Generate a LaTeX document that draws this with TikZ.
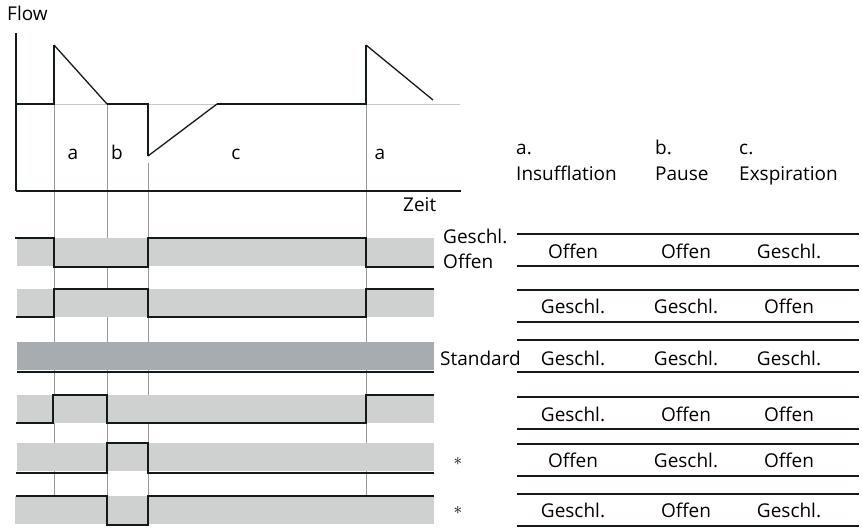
\documentclass[tikz,border=0pt]{standalone}
\usepackage{fontspec}
\setmainfont{Open Sans}
\definecolor{bandgray}{HTML}{CFD1D0}
\definecolor{stdgray}{HTML}{A6ACAF}
\definecolor{inkdark}{HTML}{121A1A}
\tikzset{
  signal/.style={inkdark, line width=2.6pt},
  flowline/.style={inkdark, line width=2pt},
  flowslope/.style={inkdark, line width=1.3pt},
  marker/.style={gray!80, line width=0.9pt},
  tablerule/.style={inkdark, line width=2pt},
  txt/.style={inner sep=0pt, anchor=base},
  txtl/.style={inner sep=0pt, anchor=base west}
}

\begin{document}
\begin{tikzpicture}[x=1pt,y=-1pt,font={\fontsize{19}{22}\selectfont}]
\useasboundingbox (0,0) rectangle (862,528);
% phase markers
\draw[marker] (54,104) -- (54,496);
\draw[marker] (107,104) -- (107,525);
\draw[marker] (148,163) -- (148,525);
\draw[marker] (366,104) -- (366,496);
\draw[gray!45, line width=0.8pt] (16,104) -- (460,104);
% axes
\draw[inkdark, line width=1.3pt] (16,33) -- (16,191);
\draw[inkdark, line width=2.6pt] (16,191) -- (461,191);
\node[txtl] (flow) at (7,20.7) {Flow};
\node[txtl] (zeit) at (403,211.7) {Zeit};
% flow curve
\draw[flowline] (16,104) -- (54,104) -- (54,45);
\draw[flowslope] (54,45) -- (107,104);
\draw[flowline] (107,104) -- (148,104) -- (148,156);
\draw[flowslope] (148,156) -- (217,104);
\draw[flowline] (217,104) -- (366,104) -- (366,45);
\draw[flowslope] (366,45) -- (433,100);
\node[txt] (pa1) at (73,159.3) {a};
\node[txt] (pb) at (117,159.3) {b};
\node[txt] (pc) at (236,159.3) {c};
\node[txt] (pa2) at (380,159.3) {a};
% valve bands
\fill[bandgray] (17,238) rectangle (434,266);
\fill[bandgray] (17,289) rectangle (434,317);
\fill[stdgray] (17,342) rectangle (434,370);
\fill[bandgray] (17,395) rectangle (434,423);
\fill[bandgray] (17,443) rectangle (434,471);
\fill[bandgray] (15,496) rectangle (434,524);
% valve signals
\draw[signal] (15,238) -- (54,238) -- (54,267) -- (148,267) -- (148,238) -- (366,238) -- (366,267) -- (434,267);
\draw[signal] (16,317) -- (54,317) -- (54,289) -- (148,289) -- (148,317) -- (366,317) -- (366,289) -- (434,289);
\draw[signal] (17,372) -- (434,372);
\draw[signal] (16,423) -- (53,423) -- (53,395) -- (107,395) -- (107,423) -- (366,423) -- (366,395) -- (434,395);
\draw[signal] (16,473) -- (107,473) -- (107,443) -- (148,443) -- (148,473) -- (434,473);
\draw[signal] (16,496) -- (107,496) -- (107,525) -- (148,525) -- (148,496) -- (434,496);
% left labels
\node[txtl] (geschl) at (443,243.3) {Geschl.};
\node[txtl] (offen) at (443,268.3) {Offen};
\node[txtl] (standard) at (440,365) {Standard};
\node[inner sep=0pt] (stara) at (458,461.7) {$\ast$};
\node[inner sep=0pt] (starb) at (458,510) {$\ast$};
% table
\node[txtl] (ha) at (516,154) {a.};
\node[txtl] (hia) at (516,180.7) {Insufflation};
\node[txtl] (hb) at (655,154) {b.};
\node[txtl] (hib) at (655,180.7) {Pause};
\node[txtl] (hc) at (739,154) {c.};
\node[txtl] (hic) at (739,180.7) {Exspiration};
\foreach \y in {234,265.7,290,321.7,340,371.7,396.7,429,444,475.7,494,525.7}
  \draw[tablerule] (517,\y) -- (859,\y);
\node[txt] (r1a) at (573,258.3) {Offen};
\node[txt] (r1b) at (686,258.3) {Offen};
\node[txt] (r1c) at (789,258.3) {Geschl.};
\node[txt] (r2a) at (573,313.3) {Geschl.};
\node[txt] (r2b) at (686,313.3) {Geschl.};
\node[txt] (r2c) at (789,313.3) {Offen};
\node[txt] (r3a) at (573,365) {Geschl.};
\node[txt] (r3b) at (686,365) {Geschl.};
\node[txt] (r3c) at (789,365) {Geschl.};
\node[txt] (r4a) at (573,421) {Geschl.};
\node[txt] (r4b) at (686,421) {Offen};
\node[txt] (r4c) at (789,421) {Offen};
\node[txt] (r5a) at (573,467.5) {Offen};
\node[txt] (r5b) at (686,467.5) {Geschl.};
\node[txt] (r5c) at (789,467.5) {Offen};
\node[txt] (r6a) at (573,517.5) {Geschl.};
\node[txt] (r6b) at (686,517.5) {Offen};
\node[txt] (r6c) at (789,517.5) {Geschl.};
\end{tikzpicture}
\end{document}
